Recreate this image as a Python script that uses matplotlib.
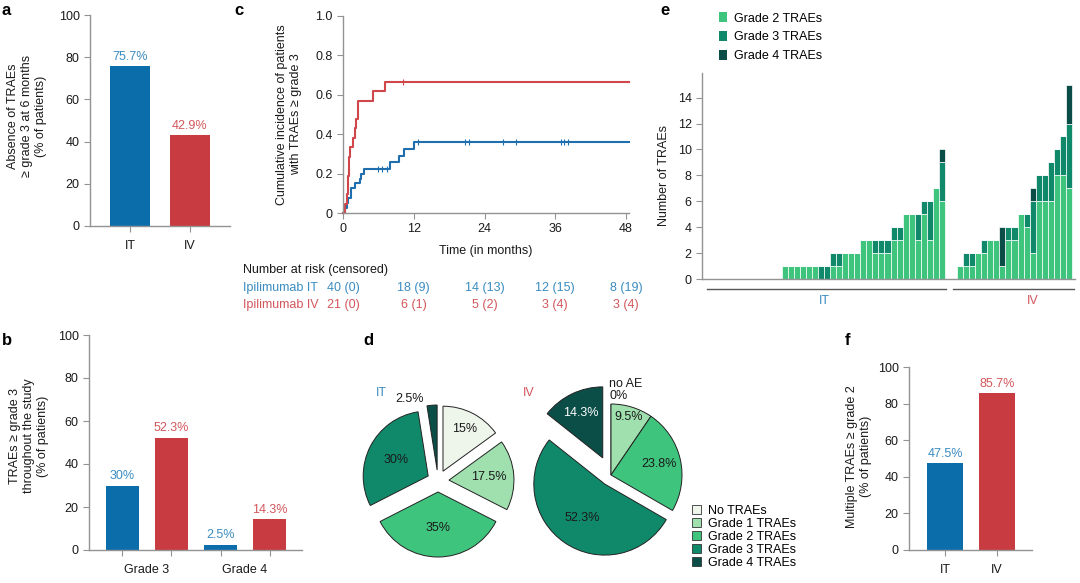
import numpy as np
import matplotlib
matplotlib.use("Agg")
import matplotlib.pyplot as plt
from matplotlib.patches import Patch
from matplotlib.transforms import blended_transform_factory

plt.rcParams["font.family"] = ["Liberation Sans", "DejaVu Sans"]

# ---- data ----
groups = ["IT", "IV"]
absence_6m = [75.7, 42.9]                 # panel a
grades_b = ["Grade 3", "Grade 4"]
it_grade34 = [30, 2.5]                    # panel b
iv_grade34 = [52.3, 14.3]
multiple_g2 = [47.5, 85.7]                # panel f

# panel c, cumulative incidence steps
it_time = [0, 0.3, 0.6, 0.9, 1.3, 2.0, 2.8, 3.1, 3.5, 7.9, 9.5, 10.3, 12.0]
it_cum = [0, 0.025, 0.05, 0.075, 0.125, 0.15, 0.175, 0.2, 0.225, 0.26, 0.29, 0.325, 0.36]
it_cens = [5.9, 6.6, 7.4, 12.7, 20.7, 21.3, 27.2, 29.4, 37.0, 37.4, 38.2]
iv_time = [0, 0.3, 0.6, 0.8, 1.0, 1.2, 1.7, 2.0, 2.2, 2.5, 5.1, 7.1]
iv_cum = [0, 0.048, 0.095, 0.19, 0.286, 0.333, 0.381, 0.429, 0.476, 0.571, 0.619, 0.667]
iv_cens = [10.1]
risk_times = [0, 12, 24, 36, 48]
risk_it = ["40 (0)", "18 (9)", "14 (13)", "12 (15)", "8 (19)"]
risk_iv = ["21 (0)", "6 (1)", "5 (2)", "3 (4)", "3 (4)"]

# panel d
pie_labels = ["No TRAEs", "Grade 1 TRAEs", "Grade 2 TRAEs", "Grade 3 TRAEs", "Grade 4 TRAEs"]
pie_it = [15, 17.5, 35, 30, 2.5]
pie_iv = [0, 9.5, 23.8, 52.3, 14.3]

# panel e, number of TRAEs per patient (sorted)
e_it_g2 = [0] * 13 + [1, 1, 1, 1, 1, 1, 0, 0, 1, 1, 2, 2, 2, 3, 3, 2, 2, 2, 3, 3, 5, 5, 3, 5, 3, 7, 6]
e_it_g3 = [0] * 13 + [0, 0, 0, 0, 0, 0, 1, 1, 1, 1, 0, 0, 0, 0, 0, 1, 1, 1, 1, 1, 0, 0, 2, 1, 3, 0, 3]
e_it_g4 = [0] * 13 + [0] * 26 + [1]
e_iv_g2 = [0, 0, 1, 1, 1, 2, 2, 3, 3, 1, 3, 3, 5, 4, 2, 6, 6, 6, 8, 8, 7]
e_iv_g3 = [0, 0, 0, 1, 1, 0, 1, 0, 0, 0, 1, 1, 0, 1, 4, 2, 2, 3, 2, 3, 5]
e_iv_g4 = [0, 0, 0, 0, 0, 0, 0, 0, 0, 3, 0, 0, 0, 0, 1, 0, 0, 0, 0, 0, 3]

# ---- style ----
BLUE, RED = "#0b6eab", "#c83c41"
BLUE_T, RED_T = "#3a8cc0", "#d2575c"
GREENS = ["#eef6ec", "#9fe0ae", "#3fc47e", "#10896a", "#0b4e47"]
SPINE = "#939393"
TXT = "#1a1a1a"
W, H = 1080, 583

fig = plt.figure(figsize=(W / 100, H / 100), dpi=100)


def px_axes(l, t, r, b):
    return fig.add_axes([l / W, 1 - b / H, (r - l) / W, (b - t) / H])


def style(ax):
    ax.spines[["top", "right"]].set_visible(False)
    for s in ["left", "bottom"]:
        ax.spines[s].set_color(SPINE)
        ax.spines[s].set_linewidth(1)
    ax.tick_params(colors=SPINE, labelcolor=TXT, labelsize=9, length=4, width=0.8)


def letter(x, y, s):
    fig.text(x / W, 1 - y / H, s, fontsize=12, fontweight="bold", va="top", ha="left")


def bar_labels(ax, xs, vals, color):
    for x, v in zip(xs, vals):
        ax.text(x, v + 1.5, f"{v:g}%", ha="center", va="bottom", fontsize=9, color=color)


# ---- a ----
ax = px_axes(90, 15, 230, 226)
style(ax)
xa = np.arange(len(groups))
ax.bar(xa, absence_6m, width=0.67, color=[BLUE, RED])
for x, v, c in zip(xa, absence_6m, [BLUE_T, RED_T]):
    bar_labels(ax, [x], [v], c)
ax.set_xlim(-0.67, 1.67)
ax.set_ylim(0, 100)
ax.set_xticks(xa, groups)
ax.tick_params(axis="x", pad=6)
ax.set_yticks(range(0, 101, 20))
ax.set_ylabel("Absence of TRAEs\n≥ grade 3 at 6 months\n(% of patients)", fontsize=9, color=TXT)
ax.yaxis.set_label_coords(-0.31, 0.52)
letter(2, 3, "a")

# ---- b ----
ax = px_axes(89, 335, 302, 550)
style(ax)
gb = np.arange(len(grades_b)) * 2
ax.bar(gb, it_grade34, width=0.68, color=BLUE)
ax.bar(gb + 1, iv_grade34, width=0.68, color=RED)
bar_labels(ax, gb, it_grade34, BLUE_T)
bar_labels(ax, gb + 1, iv_grade34, RED_T)
ax.set_xlim(-0.68, 3.66)
ax.set_ylim(0, 100)
ax.set_xticks(np.concatenate([gb, gb + 1]), [""] * 4)
ax.set_xticks(gb + 0.5, grades_b, minor=True)
ax.tick_params(axis="x", which="minor", length=0, labelsize=9, labelcolor=TXT, pad=10)
ax.set_yticks(range(0, 101, 20))
ax.set_ylabel("TRAEs ≥ grade 3\nthroughout the study\n(% of patients)", fontsize=9, color=TXT)
ax.yaxis.set_label_coords(-0.19, 0.53)
letter(2, 333, "b")

# ---- c ----
ax = px_axes(343, 16, 629, 213)
style(ax)
for t, c, cens, col in [(it_time, it_cum, it_cens, "#1f6fae"), (iv_time, iv_cum, iv_cens, "#d0464b")]:
    ax.step(list(t) + [48.5], list(c) + [c[-1]], where="post", color=col, lw=1.5, clip_on=False)
    cy = [c[np.searchsorted(t, x, side="right") - 1] for x in cens]
    ax.plot(cens, cy, ls="none", marker="|", ms=4, mew=0.8, color=col)
ax.set_xlim(0, 48.5)
ax.set_ylim(0, 1)
ax.set_xticks(risk_times)
ax.set_yticks([0, 0.2, 0.4, 0.6, 0.8, 1.0], ["0", "0.2", "0.4", "0.6", "0.8", "1.0"])
ax.set_xlabel("Time (in months)", fontsize=9, color=TXT, labelpad=7)
ax.set_ylabel("Cumulative incidence of patients\nwith TRAEs ≥ grade 3", fontsize=9, color=TXT)
ax.yaxis.set_label_coords(-0.143, 0.5)
tr = blended_transform_factory(ax.transData, ax.transAxes)
fig.text(243 / W, 1 - 270 / H, "Number at risk (censored)", fontsize=9, color=TXT, va="center")
for yy, name, row, col in [(288, "Ipilimumab IT", risk_it, BLUE_T), (305, "Ipilimumab IV", risk_iv, RED_T)]:
    fig.text(243 / W, 1 - yy / H, name, fontsize=9, color=col, va="center")
    for t, s in zip(risk_times, row):
        ax.text(t, (213 - yy) / 197, s, transform=tr, ha="center", va="center", fontsize=9, color=col)
letter(234, 3, "c")

# ---- d ----
ax = px_axes(355, 360, 690, 575)
wedge_kw = dict(edgecolor="#222222", linewidth=0.7)
# explode is in data units here (the axes is laid out in pixels)
w_it, _ = ax.pie(pie_it, colors=GREENS, startangle=90, counterclock=False,
                 explode=[11] * 5, radius=65, center=(438, 102), wedgeprops=wedge_kw)
w_iv, _ = ax.pie(pie_iv, colors=GREENS, startangle=90, counterclock=False,
                 explode=[0, 0, 0, 11, 19], radius=71, center=(611, 108), wedgeprops=wedge_kw)
ax.set_xlim(355, 690)
ax.set_ylim(8, 223)
ax.set_aspect("equal", adjustable="box")


def wedge_text(w, v, d, color=TXT):
    a = np.deg2rad((w.theta1 + w.theta2) / 2)
    cx, cy = w.center
    ax.text(cx + d * w.r * np.cos(a), cy + d * w.r * np.sin(a), f"{v:g}%",
            ha="center", va="center", fontsize=9, color=color)


for w, v, d in zip(w_it[:4], pie_it[:4], [0.72, 0.62, 0.55, 0.55]):
    wedge_text(w, v, d)
for w, v, d, c in zip(w_iv[1:], pie_iv[1:], [0.86, 0.69, 0.57, 0.7], [TXT, TXT, TXT, "white"]):
    wedge_text(w, v, d, c)
ax.text(410, 184, f"{pie_it[4]:g}%", ha="center", va="center", fontsize=9, color=TXT)
ax.text(609, 205, f"no AE\n{pie_iv[0]:g}%", ha="left", va="top", fontsize=9, color=TXT, linespacing=0.95)
ax.text(381, 190, "IT", ha="center", va="center", fontsize=9, color=BLUE_T)
ax.text(529, 190, "IV", ha="center", va="center", fontsize=9, color=RED_T)
fig.legend(handles=[Patch(facecolor=c, edgecolor="#333333", lw=0.6) for c in GREENS],
           labels=pie_labels, loc="upper left", bbox_to_anchor=(692 / W, 1 - 505 / H),
           frameon=False, fontsize=9, handlelength=0.75, handleheight=0.75,
           handletextpad=0.5, labelspacing=0.08, borderpad=0, borderaxespad=0)
letter(363, 333, "d")

# ---- e ----
ax = px_axes(702, 73, 1075, 279)
style(ax)
g2 = np.array(e_it_g2 + e_iv_g2)
g3 = np.array(e_it_g3 + e_iv_g3)
g4 = np.array(e_it_g4 + e_iv_g4)
xe = np.arange(len(g2))
bar_kw = dict(width=1.0, edgecolor="white", linewidth=0.5)
ax.bar(xe, g2, color=GREENS[2], **bar_kw)
ax.bar(xe, g3, bottom=g2, color=GREENS[3], **bar_kw)
ax.bar(xe, g4, bottom=g2 + g3, color=GREENS[4], **bar_kw)
ax.set_xlim(-0.67, 61.0)
ax.set_ylim(0, 15.9)
ax.set_xticks([])
ax.set_yticks(range(0, 15, 2))
ax.set_ylabel("Number of TRAEs", fontsize=9, color=TXT)
ax.yaxis.set_label_coords(-0.086, 0.5)
tr = blended_transform_factory(ax.transData, ax.transAxes)
n_it = len(e_it_g2)
for (x0, x1), lab, col, lx in [((0.2, n_it - 0.4), "IT", BLUE_T, 19.5),
                               ((n_it + 0.8, len(g2) - 0.2), "IV", RED_T, 54)]:
    ax.plot([x0, x1], [-10 / 206] * 2, transform=tr, color="#555555", lw=1, clip_on=False)
    ax.text(lx, -22 / 206, lab, transform=tr, ha="center", va="center", fontsize=9, color=col)
fig.legend(handles=[Patch(facecolor=c) for c in GREENS[2:]],
           labels=["Grade 2 TRAEs", "Grade 3 TRAEs", "Grade 4 TRAEs"], loc="upper left",
           bbox_to_anchor=(719 / W, 1 - 12 / H), frameon=False, fontsize=9,
           handlelength=0.6, handleheight=0.9, handletextpad=0.6, labelspacing=0.5,
           borderpad=0, borderaxespad=0)
letter(660, 3, "e")

# ---- f ----
ax = px_axes(909, 367, 1032, 550)
style(ax)
ax.bar(xa, multiple_g2, width=0.69, color=[BLUE, RED])
for x, v, c in zip(xa, multiple_g2, [BLUE_T, RED_T]):
    bar_labels(ax, [x], [v], c)
ax.set_xlim(-0.69, 1.67)
ax.set_ylim(0, 100)
ax.set_xticks(xa, groups)
ax.tick_params(axis="x", pad=6)
ax.set_yticks(range(0, 101, 20))
ax.set_ylabel("Multiple TRAEs ≥ grade 2\n(% of patients)", fontsize=9, color=TXT)
ax.yaxis.set_label_coords(-0.30, 0.51)
letter(845, 333, "f")

fig.savefig("out.png", dpi=100)
